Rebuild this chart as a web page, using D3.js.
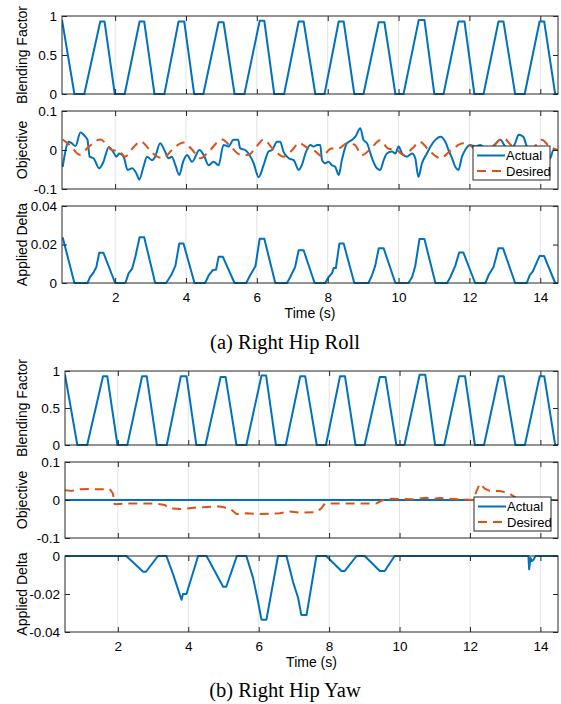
<!DOCTYPE html>
<html>
<head>
<meta charset="utf-8">
<script src="https://cdn.jsdelivr.net/npm/d3@7"></script>
<style>
  body { margin: 0; background: #fff; }
  svg { display: block; font-family: "Liberation Sans", Arial, sans-serif; }
</style>
</head>
<body>
<script>
// x axis shared by every panel
const xDomain = [0.5, 14.5];
const xTicks = [2, 4, 6, 8, 10, 12, 14];

// blending factor (same gait cycle in both figures)
const blendTime = [0.5, 0.85, 1.13,
  1.58, 1.70, 1.99, 2.27,   2.69, 2.82, 3.11, 3.39,   3.79, 3.95, 4.23, 4.49,
  4.92, 5.06, 5.37, 5.65,   6.08, 6.21, 6.49, 6.77,   7.18, 7.32, 7.65, 7.91,
  8.31, 8.45, 8.75, 9.01,   9.44, 9.60, 9.91, 10.14,  10.57, 10.73, 11.01, 11.27,
  11.69, 11.86, 12.14, 12.40, 12.82, 12.96, 13.29, 13.56, 13.98, 14.11, 14.42, 14.5];
const blendValue = [0.95, 0, 0,
  0.93, 0.93, 0, 0,   0.93, 0.93, 0, 0,   0.93, 0.93, 0, 0,
  0.92, 0.92, 0, 0,   0.94, 0.94, 0, 0,   0.93, 0.93, 0, 0,
  0.93, 0.93, 0, 0,   0.92, 0.92, 0, 0,   0.95, 0.95, 0, 0,
  0.93, 0.93, 0, 0,   0.93, 0.93, 0, 0,   0.93, 0.93, 0, 0];

// (a) objective, actual
const objActualATime = [0.52, 0.69, 0.78, 0.88, 1.02, 1.16, 1.22, 1.28, 1.39, 1.55, 1.67, 1.82, 1.96, 2.03, 2.12, 2.24,
  2.35, 2.48, 2.62, 2.68, 2.80, 2.90, 3.04, 3.13, 3.27, 3.39, 3.51, 3.60, 3.70, 3.81, 3.92, 4.03, 4.17, 4.38, 4.50,
  4.64, 4.78, 4.92, 5.06, 5.20, 5.34, 5.47, 5.53, 5.67, 5.91, 6.05, 6.19, 6.33, 6.43, 6.57, 6.66, 6.75, 6.90, 7.04,
  7.18, 7.27, 7.37, 7.51, 7.60, 7.70, 7.79, 7.84, 7.93, 8.02, 8.12, 8.21, 8.31, 8.40, 8.54, 8.69, 8.78, 8.92, 9.01,
  9.11, 9.25, 9.39, 9.48, 9.58, 9.67, 9.81, 9.91, 10.00, 10.10, 10.24, 10.38, 10.47, 10.56, 10.66, 10.80, 10.90,
  11.04, 11.18, 11.32, 11.41, 11.51, 11.60, 11.69, 11.79, 11.88, 12.02, 12.17, 12.31, 12.49, 12.68, 12.87, 13.01,
  13.15, 13.29, 13.39, 13.52, 13.62, 13.81, 14.09, 14.28, 14.37, 14.50];
const objActualAValue = [-0.043, 0.021, 0.017, 0.010, 0.045, 0.034, 0.026, -0.017, -0.021, -0.047, -0.030, 0.007, -0.007, -0.017, -0.009, -0.017,
  -0.051, -0.047, -0.064, -0.076, -0.043, -0.017, -0.026, -0.017, 0.017, 0, -0.021, -0.017, -0.039, -0.064, -0.030, -0.013, -0.030, 0, -0.013,
  -0.039, -0.030, -0.039, 0.013, 0.009, 0.026, 0.026, 0.004, 0, -0.034, -0.070, -0.039, -0.004, 0, 0.021, 0.021, -0.004, -0.021, -0.026,
  -0.051, -0.039, -0.009, 0.013, 0.009, 0.013, 0.013, -0.026, -0.034, -0.030, -0.039, -0.043, -0.064, -0.026, 0.017, 0.026, 0.034, 0.056, 0.026,
  0.017, -0.021, -0.047, -0.051, -0.026, -0.009, -0.004, -0.009, 0.009, -0.009, -0.017, -0.009, -0.021, -0.069, -0.034, -0.009, 0.009,
  0.026, 0.034, 0.021, 0, -0.021, -0.043, -0.051, -0.017, 0, 0.013, 0.009, 0.013, 0.0, 0.010, 0.026, 0.009,
  0, 0.017, 0.039, 0.034, 0.009, -0.010, -0.020, -0.021, 0, 0];

// (a) objective, desired
const objDesiredATime = [0.52, 0.75, 1.0, 1.25, 1.59, 1.75, 1.9, 2.1, 2.28, 2.5, 2.72, 2.95, 3.15, 3.36, 3.6, 3.94,
  4.15, 4.41, 4.65, 5.02, 5.25, 5.53, 5.75, 6.0, 6.19, 6.45, 6.75, 7.0, 7.19, 7.45, 7.6, 7.84, 8.1, 8.3, 8.54, 8.75,
  8.97, 9.2, 9.48, 9.7, 9.95, 10.14, 10.4, 10.6, 10.85, 11.18, 11.45, 11.83, 12.05, 12.31, 12.6, 12.96, 13.2, 13.5,
  13.8, 14.04, 14.25, 14.5];
const objDesiredAValue = [0.027, 0.010, -0.012, 0.008, 0.027, 0.015, 0.0, -0.002, -0.017, 0.005, 0.022, 0.003, -0.015, -0.021, 0.0, 0.019,
  0.003, -0.021, -0.003, 0.027, 0.010, -0.012, -0.013, 0.010, 0.027, 0.003, -0.017, 0.0, 0.018, 0.004, 0.0, -0.016, 0.004, 0.004, 0.017, 0.014,
  -0.013, 0.002, 0.025, 0.004, 0.0, -0.013, 0.005, 0.021, 0.0, -0.021, -0.003, 0.017, 0.010, -0.010, 0.005, 0.030, 0.010, -0.008,
  0.005, 0.026, 0.010, 0.0];

// (a) applied delta
const deltaATime = [0.52, 0.85, 1.22, 1.29, 1.39, 1.47, 1.55, 1.67, 2.00, 2.29, 2.38, 2.48, 2.57, 2.69, 2.82, 3.13,
  3.44, 3.58, 3.70, 3.81, 3.93, 4.24, 4.54, 4.64, 4.75, 4.85, 4.92, 5.04, 5.37, 5.70, 5.81, 5.96, 6.08, 6.21, 6.52,
  6.85, 6.94, 7.08, 7.18, 7.32, 7.63, 7.93, 8.02, 8.12, 8.17, 8.23, 8.33, 8.45, 8.75, 9.15, 9.25, 9.34, 9.44, 9.58,
  9.91, 10.28, 10.38, 10.47, 10.59, 10.73, 11.04, 11.37, 11.46, 11.60, 11.71, 11.83, 12.16, 12.45, 12.54, 12.68,
  12.82, 12.95, 13.29, 13.62, 13.70, 13.79, 13.86, 13.98, 14.11, 14.42, 14.5];
const deltaAValue = [0.0237, 0, 0, 0.003, 0.0054, 0.0083, 0.0157, 0.0157, 0, 0, 0.005, 0.0075, 0.0136, 0.0238, 0.0238, 0,
  0, 0.004, 0.0089, 0.0205, 0.0205, 0, 0, 0.004, 0.0066, 0.007, 0.0136, 0.0136, 0, 0, 0.004, 0.0087, 0.023, 0.023, 0,
  0, 0.003, 0.0083, 0.017, 0.017, 0, 0, 0.003, 0.005, 0.0078, 0.0078, 0.0205, 0.0205, 0, 0, 0.004, 0.0089, 0.018, 0.018,
  0, 0, 0.003, 0.0087, 0.0228, 0.0228, 0, 0, 0.003, 0.0089, 0.0158, 0.0158, 0, 0, 0.004, 0.0083,
  0.018, 0.018, 0, 0, 0.004, 0.006, 0.009, 0.014, 0.014, 0, 0];

// (b) objective
const objActualBTime = [0.5, 14.5];
const objActualBValue = [0, 0];
const objDesiredBTime = [0.50, 0.68, 0.92, 1.20, 1.49, 1.77, 1.86, 1.91, 2.24, 3.00, 3.33, 3.47, 3.76, 4.33, 4.89,
  5.18, 5.37, 5.65, 6.03, 6.60, 6.88, 7.17, 7.64, 7.78, 7.88, 8.49, 9.34, 9.53, 9.72, 10.38, 10.76, 10.95, 11.14,
  11.71, 12.09, 12.18, 12.28, 12.42, 12.56, 12.84, 13.12, 13.32, 13.79, 14.5];
const objDesiredBValue = [0.026, 0.024, 0.028, 0.029, 0.028, 0.029, 0.017, -0.011, -0.009, -0.009, -0.013, -0.022, -0.024, -0.019, -0.017,
  -0.022, -0.037, -0.035, -0.037, -0.035, -0.030, -0.033, -0.032, -0.022, -0.009, -0.009, -0.009, 0, 0.003, 0.002, 0.006, 0.003, 0.005,
  0.002, 0, 0.022, 0.043, 0.030, 0.024, 0.024, 0.017, 0.005, 0, 0];

// (b) applied delta
const deltaBTime = [0.5, 2.24, 2.72, 2.80, 3.14, 3.38, 3.57, 3.76, 3.81, 3.85, 3.95, 4.28, 4.52, 4.99, 5.08, 5.38,
  5.65, 5.84, 5.98, 6.08, 6.22, 6.55, 6.79, 6.98, 7.12, 7.21, 7.36, 7.64, 7.92, 8.35, 8.44, 8.78, 9.01, 9.44, 9.58,
  9.86, 13.66, 13.68, 13.72, 13.76, 13.81, 13.86, 14.5];
const deltaBValue = [0, 0, -0.0083, -0.0083, 0, 0, -0.0097, -0.0203, -0.023, -0.020, -0.020, 0, 0, -0.0162, -0.0162, 0,
  0, -0.0115, -0.0238, -0.0335, -0.0335, 0, 0, -0.014, -0.022, -0.031, -0.031, 0, 0, -0.0079, -0.0079, 0, 0, -0.0079, -0.0079,
  0, 0, -0.007, -0.001, -0.0027, -0.0018, 0, 0];

const blendTicks = [0, 0.5, 1];
const objTicks = [-0.1, 0, 0.1];
const deltaATicks = [0, 0.02, 0.04];
const deltaBTicks = [-0.04, -0.02, 0];
const legendNames = ["Actual", "Desired"];

const blue = "#0072BD", orange = "#D95319", axisColor = "#262626", gridColor = "#e3e3e3";

const svg = d3.select("body").append("svg").attr("width", 561).attr("height", 704);
svg.append("rect").attr("width", 561).attr("height", 704).attr("fill", "#fff");

let clipCount = 0;

function drawPanel(p) {
  const x = d3.scaleLinear().domain(xDomain).range([p.left, p.right]);
  const y = d3.scaleLinear().domain(p.yDomain).range([p.bottom, p.top]);
  const g = svg.append("g");

  // vertical grid
  g.selectAll(".grid").data(xTicks).join("line")
    .attr("x1", d => x(d)).attr("x2", d => x(d))
    .attr("y1", p.top).attr("y2", p.bottom)
    .attr("stroke", gridColor).attr("stroke-width", 1);

  const id = "clip" + (clipCount++);
  svg.append("clipPath").attr("id", id).append("rect")
    .attr("x", p.left).attr("y", p.top - 1)
    .attr("width", p.right - p.left).attr("height", p.bottom - p.top + 2);

  p.series.forEach(s => {
    const line = d3.line().x(d => x(d[0])).y(d => y(d[1])).curve(s.curve || d3.curveLinear);
    g.append("path").datum(d3.zip(s.t, s.v))
      .attr("clip-path", `url(#${id})`)
      .attr("d", line)
      .attr("fill", "none")
      .attr("stroke", s.color)
      .attr("stroke-width", 2)
      .attr("stroke-linejoin", "round")
      .attr("stroke-dasharray", s.dash || null);
  });

  const styleAxis = a => {
    a.select(".domain").remove();
    a.selectAll(".tick line").attr("stroke", axisColor);
    a.selectAll("text").attr("fill", "#000").style("font-size", "13.5px")
      .style("font-family", "'Liberation Sans', Arial, sans-serif");
  };

  g.append("g").attr("transform", `translate(0,${p.bottom})`)
    .call(d3.axisBottom(x).tickValues(xTicks).tickSizeInner(-5).tickSizeOuter(0)
      .tickPadding(9).tickFormat(p.xLabels ? d => d : ""))
    .call(styleAxis);
  g.append("g").attr("transform", `translate(0,${p.top})`)
    .call(d3.axisTop(x).tickValues(xTicks).tickSizeInner(-5).tickSizeOuter(0).tickFormat(""))
    .call(styleAxis);
  g.append("g").attr("transform", `translate(${p.left},0)`)
    .call(d3.axisLeft(y).tickValues(p.yTicks).tickSizeInner(-5).tickSizeOuter(0)
      .tickPadding(5).tickFormat(d => String(d)))
    .call(styleAxis);
  g.append("g").attr("transform", `translate(${p.right},0)`)
    .call(d3.axisRight(y).tickValues(p.yTicks).tickSizeInner(-5).tickSizeOuter(0).tickFormat(""))
    .call(styleAxis);

  g.append("rect")
    .attr("x", p.left).attr("y", p.top)
    .attr("width", p.right - p.left).attr("height", p.bottom - p.top)
    .attr("fill", "none").attr("stroke", axisColor).attr("stroke-width", 1);

  g.append("text")
    .attr("transform", `translate(27,${(p.top + p.bottom) / 2}) rotate(-90)`)
    .attr("text-anchor", "middle")
    .style("font-size", "14px")
    .text(p.yLabel);

  if (p.xLabels) {
    g.append("text")
      .attr("x", (p.left + p.right) / 2).attr("y", p.bottom + 35)
      .attr("text-anchor", "middle")
      .style("font-size", "14px")
      .text("Time (s)");
  }

  if (p.legend) {
    const lg = g.append("g").attr("transform", `translate(${p.legend[0]},${p.legend[1]})`);
    lg.append("rect").attr("width", 77).attr("height", 34)
      .attr("fill", "#fff").attr("stroke", axisColor).attr("stroke-width", 1);
    legendNames.forEach((name, i) => {
      const s = p.series[i];
      const yy = 9.5 + i * 15.5;
      lg.append("line").attr("x1", 4).attr("x2", 32).attr("y1", yy).attr("y2", yy)
        .attr("stroke", s.color).attr("stroke-width", 2)
        .attr("stroke-dasharray", s.dash || null);
      lg.append("text").attr("x", 33).attr("y", yy + 4.5)
        .style("font-size", "13px").text(name);
    });
  }
}

const smooth = d3.curveMonotoneX;
const dashed = "9,6";

// figure (a)
const A = { left: 62, right: 558 };
drawPanel({ ...A, top: 16, bottom: 94, yDomain: [0, 1], yTicks: blendTicks, yLabel: "Blending Factor",
  series: [{ t: blendTime, v: blendValue, color: blue }] });
drawPanel({ ...A, top: 111, bottom: 189, yDomain: [-0.1, 0.1], yTicks: objTicks, yLabel: "Objective",
  series: [{ t: objActualATime, v: objActualAValue, color: blue, curve: smooth },
           { t: objDesiredATime, v: objDesiredAValue, color: orange, dash: dashed, curve: smooth }],
  legend: [473, 146] });
drawPanel({ ...A, top: 206, bottom: 283, yDomain: [0, 0.04], yTicks: deltaATicks, yLabel: "Applied Delta",
  xLabels: true, series: [{ t: deltaATime, v: deltaAValue, color: blue }] });

svg.append("text").attr("x", 285).attr("y", 349).attr("text-anchor", "middle")
  .style("font-family", "'Liberation Serif', 'Times New Roman', serif").style("font-size", "20.5px")
  .text("(a) Right Hip Roll");

// figure (b)
const B = { left: 65, right: 558 };
drawPanel({ ...B, top: 371, bottom: 445, yDomain: [0, 1], yTicks: blendTicks, yLabel: "Blending Factor",
  series: [{ t: blendTime, v: blendValue, color: blue }] });
drawPanel({ ...B, top: 462, bottom: 538, yDomain: [-0.1, 0.1], yTicks: objTicks, yLabel: "Objective",
  series: [{ t: objActualBTime, v: objActualBValue, color: blue },
           { t: objDesiredBTime, v: objDesiredBValue, color: orange, dash: dashed }],
  legend: [474, 497] });
drawPanel({ ...B, top: 556, bottom: 632, yDomain: [-0.04, 0], yTicks: deltaBTicks, yLabel: "Applied Delta",
  xLabels: true, series: [{ t: deltaBTime, v: deltaBValue, color: blue }] });

svg.append("text").attr("x", 285).attr("y", 697).attr("text-anchor", "middle")
  .style("font-family", "'Liberation Serif', 'Times New Roman', serif").style("font-size", "20.5px")
  .text("(b) Right Hip Yaw");
</script>
</body>
</html>
